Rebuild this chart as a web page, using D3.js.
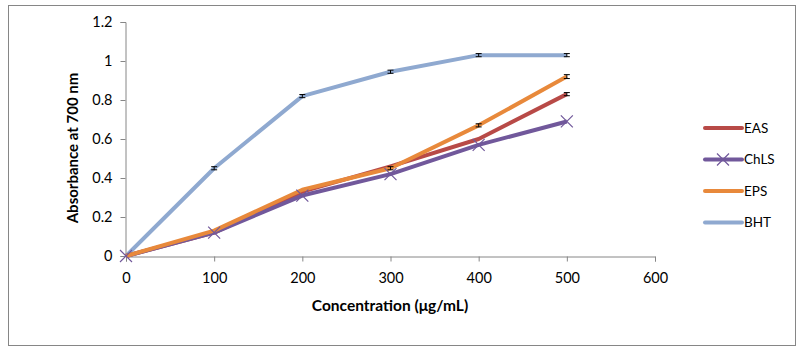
<!DOCTYPE html>
<html><head><meta charset="utf-8">
<script src="https://cdn.jsdelivr.net/npm/d3@7"></script>
<style>body{margin:0;background:#fff}svg{display:block}</style>
</head><body>
<svg id="c" width="802" height="353"></svg>
<script>
const conc = [0, 100, 200, 300, 400, 500];
const seriesNames = ["EAS", "ChLS", "EPS", "BHT"];
const eas  = [0, 0.12, 0.33, 0.46, 0.60, 0.83];
const chls = [0, 0.12, 0.31, 0.42, 0.57, 0.69];
const eps  = [0, 0.13, 0.34, 0.45, 0.67, 0.92];
const bht  = [0, 0.45, 0.82, 0.945, 1.03, 1.03];
const errEAS  = [0, 0, 0, 0, 0, 0.008];
const errChLS = [0, 0, 0, 0, 0, 0];
const errEPS  = [0, 0, 0, 0.008, 0.008, 0.01];
const errBHT  = [0, 0.008, 0.008, 0.008, 0.008, 0.008];
const xTicks = [0, 100, 200, 300, 400, 500, 600];
const yTicks = [0, 0.2, 0.4, 0.6, 0.8, 1, 1.2];
const colors = ["#B84A47", "#71589B", "#E8893B", "#8FA9D0"];

const svg = d3.select("#c");
svg.append("rect").attr("x", 8.5).attr("y", 5.5).attr("width", 787).attr("height", 340)
  .attr("fill", "#fff").attr("stroke", "#868686").attr("stroke-width", 1);

const x = d3.scaleLinear().domain([0, 600]).range([126, 655]);
const y = d3.scaleLinear().domain([0, 1.2]).range([256, 22]);
const font = "Lato, 'Open Sans', sans-serif";

const xAxis = svg.append("g").attr("transform", "translate(0,256.5)")
  .call(d3.axisBottom(x).tickValues(xTicks).tickSize(5).tickFormat(d3.format("d")));
const yAxis = svg.append("g").attr("transform", "translate(125.5,0)")
  .call(d3.axisLeft(y).tickValues(yTicks).tickSize(5).tickFormat(d => d3.format("")(d)));
[xAxis, yAxis].forEach(a => {
  a.select(".domain").attr("stroke", "#868686");
  a.selectAll(".tick line").attr("stroke", "#868686");
  a.selectAll("text").attr("fill", "#000").style("font-family", font).style("font-size", "14.5px");
});
xAxis.selectAll("text").attr("dy", "1.25em");
yAxis.selectAll("text").attr("dx", "-5px");

svg.append("text").attr("x", 390).attr("y", 311).attr("text-anchor", "middle")
  .style("font-family", font).style("font-size", "15.5px").style("font-weight", "bold")
  .text("Concentration (μg/mL)");
svg.append("text").attr("transform", "translate(78,148) rotate(-90)").attr("text-anchor", "middle")
  .style("font-family", font).style("font-size", "15px").style("font-weight", "bold")
  .text("Absorbance at 700 nm");

const data = [eas, chls, eps, bht];
const errs = [errEAS, errChLS, errEPS, errBHT];
const line = d3.line().x((d, i) => x(conc[i])).y(d => y(d));
const order = [3, 0, 1, 2];
order.forEach(s => {
  svg.append("path").datum(data[s]).attr("d", line).attr("fill", "none")
    .attr("stroke", colors[s]).attr("stroke-width", 4).attr("stroke-linejoin", "round");
});
// ChLS X markers
data[1].forEach((v, i) => {
  const cx = x(conc[i]), cy = y(v), r = 6;
  svg.append("path").attr("d", `M${cx-r},${cy-r}L${cx+r},${cy+r}M${cx-r},${cy+r}L${cx+r},${cy-r}`)
    .attr("stroke", colors[1]).attr("stroke-width", 1.2);
});
// error bars
data.forEach((arr, s) => arr.forEach((v, i) => {
  const e = errs[s][i];
  if (!e) return;
  const cx = x(conc[i]), y1 = y(v + e), y2 = y(v - e);
  svg.append("path").attr("d", `M${cx},${y1}L${cx},${y2}M${cx-3},${y1}L${cx+3},${y1}M${cx-3},${y2}L${cx+3},${y2}`)
    .attr("stroke", "#000").attr("stroke-width", 1).attr("fill", "none");
}));

// legend
const lg = svg.append("g");
seriesNames.forEach((n, k) => {
  const ly = 128 + k * 31.5;
  lg.append("line").attr("x1", 705).attr("x2", 742).attr("y1", ly).attr("y2", ly)
    .attr("stroke", colors[k]).attr("stroke-width", 4).attr("stroke-linecap", "round");
  if (k === 1) {
    lg.append("path").attr("d", `M${723-6},${ly-6}L${723+6},${ly+6}M${723-6},${ly+6}L${723+6},${ly-6}`)
      .attr("stroke", colors[1]).attr("stroke-width", 1.2);
  }
  lg.append("text").attr("x", 744).attr("y", ly).attr("dy", "0.35em")
    .style("font-family", font).style("font-size", "13.5px").text(n);
});
</script>
</body></html>
